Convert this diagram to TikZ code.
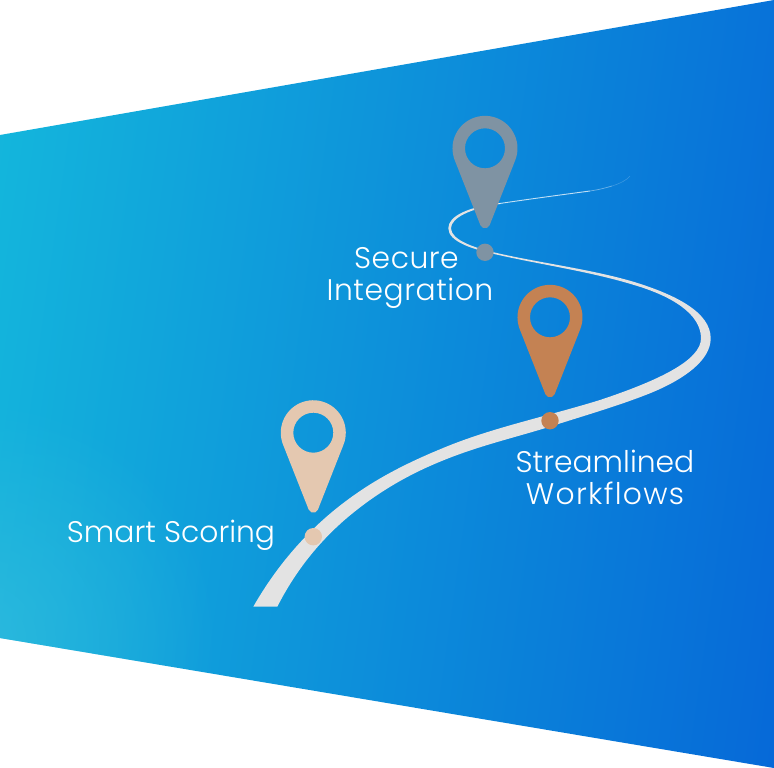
\documentclass[tikz,border=0pt]{standalone}
\usepackage{fontspec}
\usetikzlibrary{fadings}
\newfontfamily\lab{Poppins Light}
\definecolor{bgL}{HTML}{14B8DC}
\definecolor{bgM}{HTML}{0C90D9}
\definecolor{bgR}{HTML}{0668D8}
\definecolor{bgG}{HTML}{38BEDE}
\definecolor{road}{HTML}{E3E3E3}
\definecolor{pinA}{HTML}{E4C8B0}
\definecolor{pinB}{HTML}{C48253}
\definecolor{pinC}{HTML}{7F93A3}
\tikzfading[name=glow,inner color=transparent!0,outer color=transparent!100]
\tikzset{
  label text/.style={text=white,font=\lab\fontsize{29.8}{32}\selectfont,align=center,inner sep=0pt},
  pin dot/.style={circle,inner sep=0pt,minimum size=17.4pt},
  pin/.pic={
    \fill[#1,even odd rule,x=1pt,y=1pt]
      (30.2,-12) arc[start angle=-21.6,end angle=201.6,radius=32.5pt]
      -- (-4.65,-76.85) arc[start angle=201.6,end angle=338.4,radius=5pt]
      -- cycle
      (0,0) circle[radius=20pt];
  }
}
\newcommand{\spaced}[2]{{\addfontfeature{LetterSpace=#1}#2}}
\begin{document}
\begin{tikzpicture}[x=1pt,y=-1pt]
\useasboundingbox (0,0) rectangle (774,768);
\fill[white] (0,0) rectangle (774,768);
\begin{scope}
  \clip (0,135) -- (774,0) -- (774,768) -- (0,638) -- cycle;
  \shade[left color=bgL,middle color=bgM,right color=bgR,shading angle=82] (-60,-60) rectangle (834,828);
  \fill[bgG,opacity=.65,path fading=glow] (-20,640) circle[radius=240pt];
\end{scope}
% road
\fill[road] (277.3,606.7)
  .. controls (296,570) and (322,537) .. (356.7,510)
  .. controls (382,490) and (410,474) .. (440,461.7)
  .. controls (480,445) and (520,436.5) .. (558.3,424)
  .. controls (590,414) and (622,404.5) .. (650,393.3)
  .. controls (685,379) and (710.7,360) .. (710.7,338.3)
  .. controls (710.7,312) and (675,294.5) .. (633.3,281.7)
  .. controls (590,269) and (540,263) .. (495,252.6)
  .. controls (475,248) and (451,240) .. (451,228.3)
  .. controls (451,218) and (470,208.5) .. (500,204)
  -- (500,203)
  .. controls (468,207) and (448.3,216) .. (448.3,228.3)
  .. controls (448.3,242) and (474,249.5) .. (495,254.2)
  .. controls (540,264.5) and (590,271.5) .. (633,284.7)
  .. controls (672,296) and (701,314) .. (701,338.3)
  .. controls (701,360) and (660,380) .. (600,400)
  .. controls (545,417) and (490,428) .. (440,449.3)
  .. controls (408,462.5) and (380,477) .. (356.7,493.3)
  .. controls (315,522) and (280,560) .. (253.3,606.7)
  -- cycle;
\draw[white,opacity=.75,line width=.9pt] (499,203.6) .. controls (530,199) and (560,195) .. (590,191);
\draw[white,opacity=.4,line width=.7pt] (590,191) .. controls (600,189.5) and (605,188) .. (612,186);
\draw[white,opacity=.2,line width=.6pt] (612,186) .. controls (620,183.5) and (627,180) .. (630,176);
% pins
\pic at (313.3,432.7) {pin=pinA};
\pic at (550,317.3) {pin=pinB};
\pic at (485,148.3) {pin=pinC};
\node[pin dot,fill=pinA] (dotA) at (313.3,536.7) {};
\node[pin dot,fill=pinB] (dotB) at (550,420.7) {};
\node[pin dot,fill=pinC] (dotC) at (485,252.3) {};
% labels
\node[label text,anchor=center] (smart) at (171,535) {Smart Scoring};
\node[label text,anchor=center] (stream) at (605,477) {Streamlined\\[0pt]\spaced{4.3}{Workflows}};
\node[label text,anchor=center] (secure) at (410,278) {\spaced{1.7}{Secure}\hspace*{7pt}\\[0pt]\spaced{1.8}{Integration}};
\end{tikzpicture}
\end{document}
